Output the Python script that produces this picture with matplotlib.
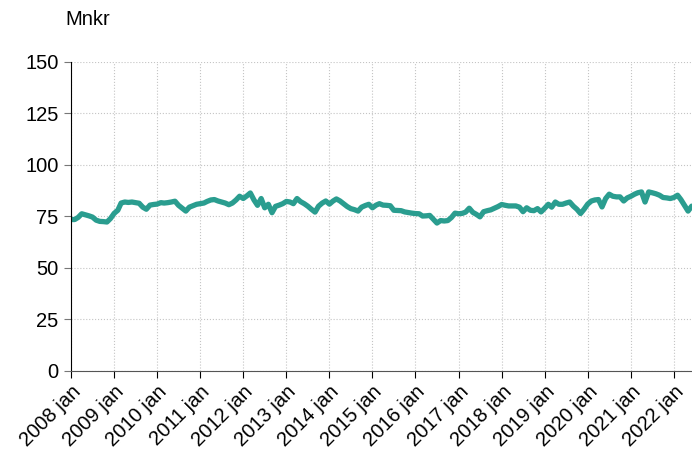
import numpy as np
import pandas as pd
import matplotlib
matplotlib.use('Agg')
import matplotlib.pyplot as plt

plt.rcParams['font.family'] = ['Liberation Sans', 'DejaVu Sans']

# Monthly values, 2008 jan - 2022 jun (Mnkr)
values = [
    73.5, 73.5, 74.5, 76.3, 75.8, 75.3, 74.7, 73.2, 72.6, 72.5, 72.3, 74.0,  # 2008
    76.5, 78.0, 81.5, 82.0, 81.8, 82.0, 81.7, 81.4, 79.5, 78.5, 80.5, 80.8,  # 2009
    81.0, 81.7, 81.5, 81.7, 82.0, 82.4, 80.4, 79.0, 77.6, 79.5, 80.2, 80.9,  # 2010
    81.2, 81.5, 82.3, 83.0, 83.2, 82.5, 82.0, 81.5, 80.7, 81.5, 83.0, 84.8,  # 2011
    83.7, 85.0, 86.4, 83.0, 80.4, 83.7, 79.2, 80.9, 76.8, 79.9, 80.5, 81.2,  # 2012
    82.3, 82.0, 81.2, 83.7, 82.2, 81.2, 80.0, 78.5, 77.1, 80.0, 81.5, 82.5,  # 2013
    81.0, 82.5, 83.5, 82.5, 81.2, 79.8, 78.8, 78.3, 77.6, 79.5, 80.3, 80.9,  # 2014
    79.2, 80.5, 81.2, 80.5, 80.4, 80.2, 78.0, 77.9, 77.8, 77.2, 76.9, 76.6,  # 2015
    76.4, 76.3, 75.2, 75.3, 75.5, 73.6, 71.8, 73.0, 72.8, 73.0, 74.5, 76.6,  # 2016
    76.3, 76.5, 77.1, 79.0, 77.0, 76.0, 74.8, 77.3, 77.8, 78.2, 79.0, 79.8,  # 2017
    80.8, 80.4, 80.1, 80.1, 80.1, 79.5, 77.3, 79.2, 78.0, 77.8, 78.8, 77.2,  # 2018
    79.0, 80.9, 79.5, 82.0, 80.9, 80.9, 81.5, 82.0, 80.0, 78.5, 76.4, 78.5,  # 2019
    81.0, 82.5, 83.0, 83.2, 79.6, 83.7, 85.8, 84.8, 84.5, 84.5, 82.5, 84.0,  # 2020
    84.8, 85.8, 86.5, 86.9, 82.0, 86.9, 86.5, 86.0, 85.3, 84.2, 84.0, 83.7,  # 2021
    84.2, 85.3, 83.2, 80.4, 77.6, 80.0,                                      # 2022
]
dates = pd.date_range('2008-01-01', periods=len(values), freq='MS')
tick_years = list(range(2008, 2023))
tick_labels = [f'{y} jan' for y in tick_years]


def main():
    fig = plt.figure(figsize=(6.92, 4.62), dpi=100)
    ax = fig.add_axes([0.1026, 0.197, 0.897, 0.669])

    ax.plot(dates, values, color='#2a9d8f', linewidth=3.8, solid_joinstyle='round',
            solid_capstyle='round')

    ax.set_ylim(0, 150)
    ax.set_yticks(np.arange(0, 151, 25))
    ax.set_xlim(dates[0], dates[-1])
    ax.set_xticks([pd.Timestamp(f'{y}-01-01') for y in tick_years])
    ax.set_xticklabels(tick_labels, rotation=45, ha='right', rotation_mode='anchor')

    ax.grid(True, color='#c4c4c4', linestyle=':', linewidth=0.8)
    ax.set_axisbelow(True)

    for s in ['top', 'right']:
        ax.spines[s].set_visible(False)
    ax.spines['left'].set_color('black')
    ax.spines['bottom'].set_color('#555555')
    ax.tick_params(axis='y', length=5, color='#777777', labelsize=14.5, pad=4)
    ax.tick_params(axis='x', length=5, color='black', labelsize=14.5, pad=3)

    fig.text(0.094, 0.957, 'Mnkr', fontsize=14.5, va='center', ha='left')

    fig.savefig('out.png', dpi=100)


if __name__ == '__main__':
    main()
